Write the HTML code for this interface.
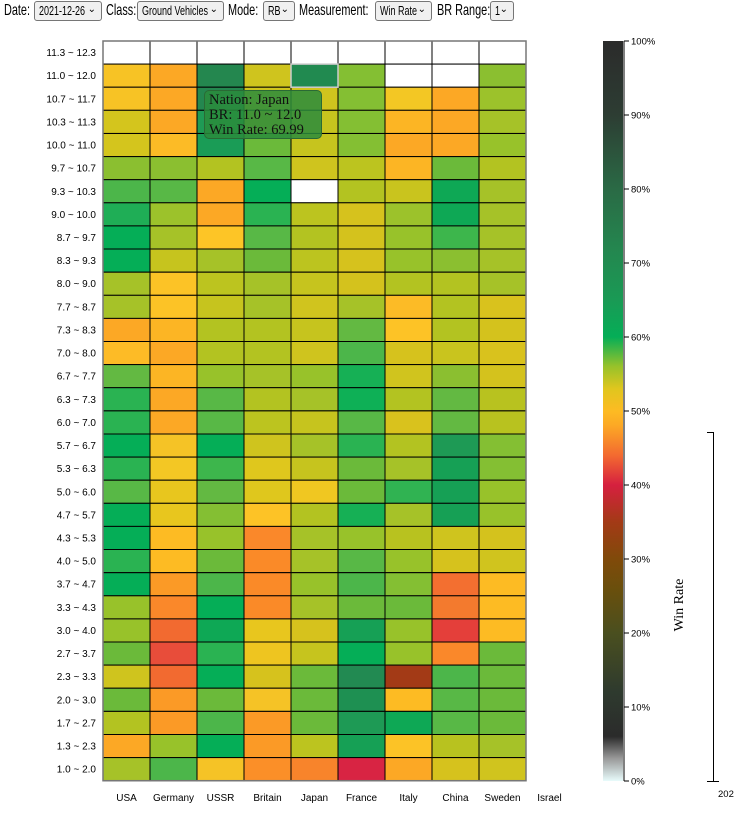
<!DOCTYPE html>
<html><head><meta charset="utf-8"><style>
body{margin:0;width:734px;height:820px;background:#fff;font-family:"Liberation Sans",Arial,sans-serif;position:relative;overflow:hidden}
.lbl{position:absolute;top:0;font-size:16px;line-height:22px;color:#000;white-space:nowrap;transform:scaleX(0.68);transform-origin:0 0}
.sel{position:absolute;top:1px;height:18px;border:1px solid #767676;border-radius:3px;background:#f0f0f0;box-sizing:content-box;color:#000;white-space:nowrap;overflow:hidden}
.sel i{font-style:normal;position:absolute;left:4px;top:0;font-size:12.5px;line-height:18px;transform:scaleX(0.72);transform-origin:0 0}
.sel span{position:absolute;right:5px;top:0;font-size:10px;line-height:16px;background:#f0f0f0}
svg{position:absolute;left:0;top:0}
.tip{position:absolute;left:204px;top:90px;width:118px;height:49px;background:rgba(42,140,60,0.85);border:1px solid #2a6a35;border-radius:5px;font-family:"Liberation Serif",serif;font-size:14.5px;line-height:15px;padding:2px 0 0 4px;box-sizing:border-box;color:#111;white-space:nowrap}
</style></head><body>
<div class="lbl" style="left:4px">Date:</div>
<div class="sel" style="left:34px;width:66px"><i>2021-12-26</i><span>&#8964;</span></div>
<div class="lbl" style="left:106px">Class:</div>
<div class="sel" style="left:137px;width:85px"><i>Ground Vehicles</i><span>&#8964;</span></div>
<div class="lbl" style="left:228px">Mode:</div>
<div class="sel" style="left:263px;width:30px"><i>RB</i><span>&#8964;</span></div>
<div class="lbl" style="left:299px">Measurement:</div>
<div class="sel" style="left:375px;width:55px"><i>Win Rate</i><span>&#8964;</span></div>
<div class="lbl" style="left:437px">BR Range:</div>
<div class="sel" style="left:490px;width:22px"><i>1</i><span>&#8964;</span></div>
<svg id="s" width="734" height="820" xmlns="http://www.w3.org/2000/svg">
<defs><linearGradient id="cb" x1="0" y1="1" x2="0" y2="0">
<stop offset="0" stop-color="#e8fbfb"/><stop offset="0.03" stop-color="#9a9a9a"/><stop offset="0.06" stop-color="#2b2b2b"/>
<stop offset="0.12" stop-color="#2e3a2e"/><stop offset="0.2" stop-color="#4a4f1f"/><stop offset="0.26" stop-color="#6a4f0c"/>
<stop offset="0.3" stop-color="#804a0a"/><stop offset="0.35" stop-color="#a33a16"/><stop offset="0.4" stop-color="#d6203f"/>
<stop offset="0.44" stop-color="#f36a30"/><stop offset="0.48" stop-color="#fca825"/><stop offset="0.5" stop-color="#fdbb23"/>
<stop offset="0.53" stop-color="#e0c61e"/><stop offset="0.56" stop-color="#98c22a"/><stop offset="0.6" stop-color="#05ae57"/>
<stop offset="0.65" stop-color="#1a9a55"/><stop offset="0.72" stop-color="#24864f"/><stop offset="0.8" stop-color="#2a6a45"/>
<stop offset="0.9" stop-color="#2d3d33"/><stop offset="1" stop-color="#2b2b2b"/></linearGradient></defs>
<g id="g"></g>
<rect x="603" y="41" width="20" height="740" fill="url(#cb)"/>
<line x1="624" y1="41" x2="624" y2="781" stroke="#000"/>
<g id="cbt" font-size="9.5" fill="#000"></g>
<text x="683" y="605" font-family="Liberation Serif,serif" font-size="14" transform="rotate(-90 683 605)" text-anchor="middle">Win Rate</text>
<path d="M707 432.5H713.5V781M707 781.5H719" stroke="#000" fill="none"/>
<text x="718" y="797" font-size="9.5">202</text>
</svg>
<div class="tip">Nation: Japan<br>BR: 11.0 ~ 12.0<br>Win Rate: 69.99</div>
<script>
var W="#ffffff";
var d=[
[W,W,W,W,W,W,W,W,W],
["#f7c325","#fca825","#24874f","#cfc41e","#218a50","#84bf33",W,W,"#8bbf30"],
["#f7c325","#fca825","#24874f","#cfc41e","#cfc41e","#84bf33","#f3c724","#fca825","#9cc22b"],
["#d4c51d","#fca825","#1f9a55","#c6c41e","#c6c41e","#84bf33","#fcb524","#fca825","#a6c228"],
["#d4c51d","#fcbb26","#1a9c56","#6bba3a","#c6c41e","#84bf33","#fca825","#fca825","#98c22a"],
["#8bbf30","#8bbf30","#b3c321","#58b846","#cfc41e","#bcc41f","#fcb524","#6bba3a","#b3c321"],
["#4cb64a","#58b846","#fca825","#05ae57",W,"#b3c321","#c9c41e","#0ea855","#a6c228"],
["#1fae56","#9cc22b","#fca825","#2ab352","#bcc41f","#d6c21d","#9cc22b","#0ea855","#a6c228"],
["#05ae57","#a6c228","#fdc526","#58b846","#b3c321","#d4c21d","#98c22a","#3db64c","#a6c228"],
["#05ae57","#c6c41e","#a6c228","#6bba3a","#bcc41f","#d6c21d","#98c22a","#8bbf30","#a6c228"],
["#a6c228","#fcc326","#bcc41f","#a6c228","#c6c41e","#d4c21d","#b3c321","#b3c321","#a6c228"],
["#a6c228","#fcc326","#c6c41e","#a6c228","#d0c41e","#a6c228","#fcbb26","#b3c321","#d9c21d"],
["#fca825","#fcb524","#b3c321","#b3c321","#c6c41e","#63b942","#fdc326","#b3c321","#d4c21d"],
["#fdbb26","#fca825","#b3c321","#b3c321","#cfc41e","#4cb64a","#d6c21d","#c9c41e","#d9c21d"],
["#63b942","#fcb524","#98c22a","#a6c228","#98c22a","#16b055","#d0c41e","#8bbf30","#d4c21d"],
["#2ab352","#fca825","#58b846","#b3c321","#a6c228","#0eb056","#b3c321","#63b942","#b8c21f"],
["#2ab352","#fca825","#58b846","#bcc41f","#c6c41e","#58b846","#d9c21d","#63b942","#b8c21f"],
["#05ae57","#f5c326","#05ae57","#cfc41e","#a6c228","#2ab352","#b3c321","#1e9a55","#84bf33"],
["#2ab352","#f3c724","#3db64c","#dfc71d","#c6c41e","#6bba3a","#a6c228","#16a055","#84bf33"],
["#58b846","#e8c61e","#63b942","#dfc71d","#f0c721","#6bba3a","#30b352","#16a055","#98c22a"],
["#05ae57","#e8c61e","#84bf33","#fdc326","#b3c321","#16b055","#a6c228","#16a055","#98c22a"],
["#05ae57","#fdbb23","#98c22a","#fa882a","#a6c228","#98c22a","#b8c21f","#cfc41e","#d4c21d"],
["#2ab352","#fdbb23","#6bba3a","#fa8a28","#a6c228","#58b846","#98c22a","#d6c21d","#d0c41e"],
["#05ae57","#fb9a26","#4cb64a","#fa8a28","#98c22a","#4cb64a","#84bf33","#f36f30","#fdbb23"],
["#98c22a","#fa882a","#05ae57","#fa8a28","#a6c228","#6bba3a","#6bba3a","#f37a2e","#fdbb23"],
["#98c22a","#f26a30","#0ea855","#e8c61e","#d6c21d","#16a055","#98c22a","#e43f3a","#fdbb23"],
["#6bba3a","#e84d3a","#2ab352","#eec520","#c6c41e","#05ae57","#98c22a","#fa882a","#6bba3a"],
["#cfc41e","#f26a30","#05ae57","#d6c21d","#6bba3a","#228a52","#a33a16","#4cb64a","#6bba3a"],
["#6bba3a","#fb9a26","#6bba3a","#f5c326","#6bba3a","#1e9052","#fdbb23","#58b846","#6bba3a"],
["#b3c321","#fb9a26","#4cb64a","#fb9a26","#6bba3a","#1e9a55","#0ea855","#58b846","#6bba3a"],
["#fca825","#98c22a","#05ae57","#fb9a26","#bcc41f","#16a055","#fcc326","#b8c21f","#a6c228"],
["#a6c228","#4cb64a","#f5c326","#fb8f28","#f8842b","#d82443","#fca825","#d6c21d","#d0c41e"]];
var labs=["11.3 ~ 12.3","11.0 ~ 12.0","10.7 ~ 11.7","10.3 ~ 11.3","10.0 ~ 11.0","9.7 ~ 10.7","9.3 ~ 10.3","9.0 ~ 10.0","8.7 ~ 9.7","8.3 ~ 9.3","8.0 ~ 9.0","7.7 ~ 8.7","7.3 ~ 8.3","7.0 ~ 8.0","6.7 ~ 7.7","6.3 ~ 7.3","6.0 ~ 7.0","5.7 ~ 6.7","5.3 ~ 6.3","5.0 ~ 6.0","4.7 ~ 5.7","4.3 ~ 5.3","4.0 ~ 5.0","3.7 ~ 4.7","3.3 ~ 4.3","3.0 ~ 4.0","2.7 ~ 3.7","2.3 ~ 3.3","2.0 ~ 3.0","1.7 ~ 2.7","1.3 ~ 2.3","1.0 ~ 2.0"];
var nat=["USA","Germany","USSR","Britain","Japan","France","Italy","China","Sweden","Israel"];
var x0=103,y0=41,cw=47,rh=739.7/32,h="";
for(var r=0;r<32;r++){
 var y=y0+r*rh;
 h+='<text x="96" y="'+(y+rh/2+3.5).toFixed(1)+'" font-size="10" text-anchor="end">'+labs[r]+'</text>';
 for(var c=0;c<9;c++){
  h+='<rect x="'+(x0+c*cw)+'" y="'+y.toFixed(1)+'" width="'+cw+'" height="'+rh.toFixed(2)+'" fill="'+d[r][c]+'" stroke="#000" stroke-width="1"/>';
 }
}
h+='<rect x="'+x0+'" y="'+y0+'" width="'+(9*cw)+'" height="739.7" fill="none" stroke="#777" stroke-width="1.5"/>';
h+='<rect x="'+(x0+4*cw)+'" y="'+(y0+rh).toFixed(1)+'" width="'+cw+'" height="'+rh.toFixed(2)+'" fill="none" stroke="#ccc" stroke-width="1.5"/>';
for(var c=0;c<10;c++)h+='<text x="'+(x0+c*cw+cw/2)+'" y="801" font-size="10" text-anchor="middle">'+nat[c]+'</text>';
document.getElementById("g").innerHTML=h;
var t="";
for(var i=0;i<=10;i++){var y=781-i*74;t+='<line x1="624" y1="'+y+'" x2="629" y2="'+y+'" stroke="#000"/><text x="631" y="'+(y+3.5)+'">'+(i*10)+'%</text>';}
document.getElementById("cbt").innerHTML=t;
</script>
</body></html>
